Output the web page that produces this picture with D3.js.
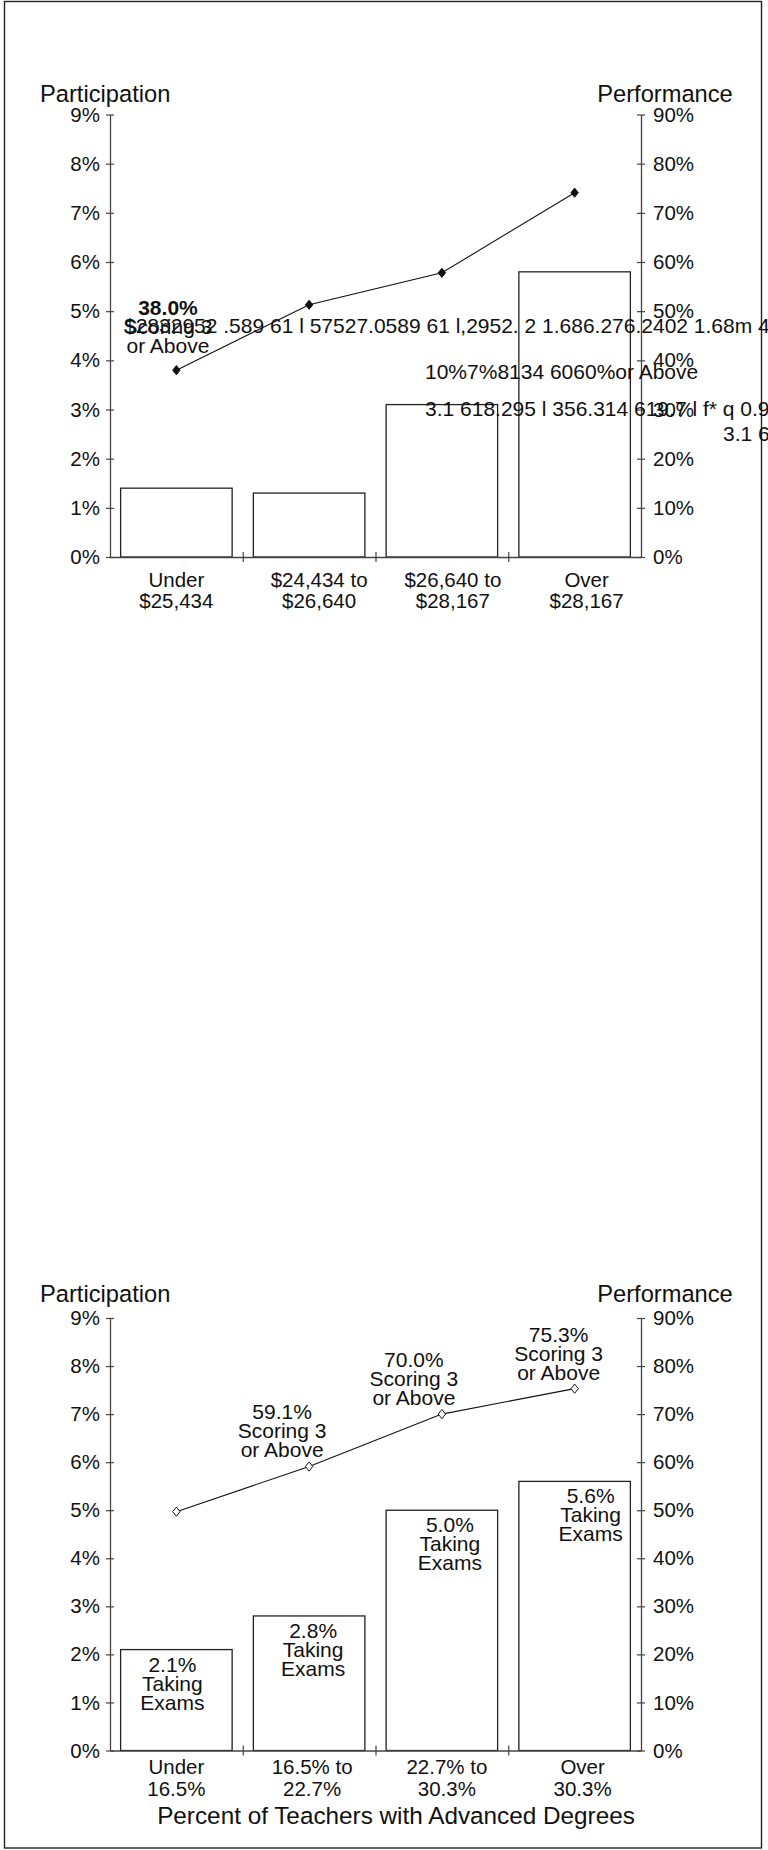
<!DOCTYPE html>
<html>
<head>
<meta charset="utf-8">
<script src="https://cdn.jsdelivr.net/npm/d3@7"></script>
<style>
  body { margin: 0; background: #fff; }
  svg { display: block; font-family: "Liberation Sans", Arial, Helvetica, sans-serif; }
</style>
</head>
<body>
<svg id="chart" width="768" height="1850"></svg>
<script>
// ---- data ----
const salaryBands = [["Under", "$25,434"], ["$24,434 to", "$26,640"], ["$26,640 to", "$28,167"], ["Over", "$28,167"]];
const salaryTaking = [1.4, 1.3, 3.1, 5.8];       // % of students taking exams
const salaryScoring = [38.0, 51.3, 57.8, 74.1];  // % scoring 3 or above

const degreeBands = [["Under", "16.5%"], ["16.5% to", "22.7%"], ["22.7% to", "30.3%"], ["Over", "30.3%"]];
const degreeTaking = [2.1, 2.8, 5.0, 5.6];
const degreeScoring = [49.7, 59.1, 70.0, 75.3];

const participationTicks = [0, 1, 2, 3, 4, 5, 6, 7, 8, 9];
const performanceTicks = [0, 10, 20, 30, 40, 50, 60, 70, 80, 90];
const degreeAxisTitle = "Percent of Teachers with Advanced Degrees";

// loose text runs printed over the salary panel
const strayRuns = [
  "$2832952 .589 61 l 57527.0589 61 l,2952. 2 1.686.276.2402 1.68m 4",
  "10%7%8134 6060%or Above",
  "3.1 618.295 l 356.314 619.7 l f* q 0.95 0 0 1 356.3",
  "3.1 618.295 l"
];

// ---- layout ----
const axisL = 110, axisR = 641;
const FONT_TICK = 20.5, FONT_TITLE = 23.7, FONT_XTITLE = 24.3, FONT_LABEL = 21, LINE_H = 19;
const strayPos = [[124, 333], [425, 379], [425, 415.5], [723, 441]];

const panels = [
  {
    cats: salaryBands, taking: salaryTaking, scoring: salaryScoring,
    y9: 114.5, y0: 557, titleY: 101.5, catY: [587, 607.5], catNudge: [0, 10, 11, 12],
    openMarker: false, barLabels: false,
    lineLabels: [{ i: 0, dx: -8.4, dy: [-55.3, -36.3, -17.3], boldFirst: true }]
  },
  {
    cats: degreeBands, taking: degreeTaking, scoring: degreeScoring,
    y9: 1318, y0: 1750.5, titleY: 1302, catY: [1773.5, 1796], catNudge: [0, 3, 5, 8],
    openMarker: true, barLabels: true, barNudge: [-4, 4, 8, 16],
    lineLabels: [
      { i: 1, dx: -27, dy: [-47, -28, -9] },
      { i: 2, dx: -28, dy: [-47, -28, -9] },
      { i: 3, dx: -16, dy: [-47, -28, -9] }
    ],
    axisTitle: degreeAxisTitle, axisTitleY: 1823.5
  }
];

const svg = d3.select("#chart");

// page frame
svg.append("rect")
  .attr("x", 4.5).attr("y", 1.5).attr("width", 757).attr("height", 1846.5)
  .attr("fill", "none").attr("stroke", "#222").attr("stroke-width", 1.4);

const diamond = "M0,-4.6L3.7,0L0,4.6L-3.7,0Z";

panels.forEach((p, pi) => {
  const g = svg.append("g");
  const idx = p.cats.map((d, i) => i);

  const x = d3.scaleBand().domain(idx).range([axisL, axisR])
    .paddingInner(0.16).paddingOuter(0.08);
  const xEdge = d3.scaleLinear().domain([0, p.cats.length]).range([axisL, axisR]);
  const yL = d3.scaleLinear().domain([0, 9]).range([p.y0, p.y9]);
  const yR = d3.scaleLinear().domain([0, 90]).range([p.y0, p.y9]);
  const cx = i => x(i) + x.bandwidth() / 2;

  // bars: participation
  g.append("g").selectAll("rect").data(p.taking).join("rect")
    .attr("x", (d, i) => x(i))
    .attr("y", d => yL(d))
    .attr("width", x.bandwidth())
    .attr("height", d => p.y0 - yL(d))
    .attr("fill", "#fff").attr("stroke", "#222").attr("stroke-width", 1.3);

  // axes
  const styleAxis = (sel, cross) => {
    sel.select(".domain").attr("stroke", "#444").attr("stroke-width", 1.3);
    sel.selectAll(".tick line").attr("stroke", "#444").attr("stroke-width", 1.2);
    sel.selectAll(".tick text").attr("fill", "#111")
      .style("font-size", FONT_TICK + "px")
      .style("font-family", "'Liberation Sans', Arial, sans-serif");
    cross(sel.selectAll(".tick line"));
  };

  const left = g.append("g").attr("transform", `translate(${axisL},0)`)
    .call(d3.axisLeft(yL).tickValues(participationTicks).tickFormat(d => d + "%")
      .tickSizeInner(4).tickSizeOuter(0).tickPadding(6));
  styleAxis(left, s => s.attr("x1", 4));

  const right = g.append("g").attr("transform", `translate(${axisR},0)`)
    .call(d3.axisRight(yR).tickValues(performanceTicks).tickFormat(d => d + "%")
      .tickSizeInner(4).tickSizeOuter(0).tickPadding(8));
  styleAxis(right, s => s.attr("x1", -4));

  const bottom = g.append("g").attr("transform", `translate(0,${p.y0})`)
    .call(d3.axisBottom(xEdge).tickValues(d3.range(1, p.cats.length)).tickFormat("")
      .tickSizeInner(5).tickSizeOuter(0));
  styleAxis(bottom, s => s.attr("y1", -5));

  // category labels
  const cat = g.append("g").attr("fill", "#111").attr("text-anchor", "middle")
    .style("font-size", FONT_TICK + "px");
  p.cats.forEach((lines, i) => {
    lines.forEach((t, k) => {
      cat.append("text").attr("x", cx(i) + p.catNudge[i]).attr("y", p.catY[k]).text(t);
    });
  });

  // axis headings
  g.append("text").attr("x", 40).attr("y", p.titleY).attr("fill", "#111")
    .style("font-size", FONT_TITLE + "px").text("Participation");
  g.append("text").attr("x", 665).attr("y", p.titleY).attr("text-anchor", "middle")
    .attr("fill", "#111").style("font-size", FONT_TITLE + "px").text("Performance");
  if (p.axisTitle) {
    g.append("text").attr("x", 396).attr("y", p.axisTitleY).attr("text-anchor", "middle")
      .attr("fill", "#111").style("font-size", FONT_XTITLE + "px").text(p.axisTitle);
  }

  // performance line
  const line = d3.line().x((d, i) => cx(i)).y(d => yR(d));
  g.append("path").datum(p.scoring).attr("d", line)
    .attr("fill", "none").attr("stroke", "#111").attr("stroke-width", 1.1);
  g.append("g").selectAll("path").data(p.scoring).join("path")
    .attr("d", diamond)
    .attr("transform", (d, i) => `translate(${cx(i)},${yR(d)})`)
    .attr("fill", p.openMarker ? "#fff" : "#111")
    .attr("stroke", "#111").attr("stroke-width", 1);

  // line labels
  p.lineLabels.forEach(L => {
    const v = p.scoring[L.i];
    const lines = [v.toFixed(1) + "%", "Scoring 3", "or Above"];
    lines.forEach((t, k) => {
      g.append("text")
        .attr("x", cx(L.i) + L.dx).attr("y", yR(v) + L.dy[k])
        .attr("text-anchor", "middle").attr("fill", "#111")
        .style("font-size", FONT_LABEL + "px")
        .style("font-weight", (L.boldFirst && k === 0) ? "bold" : "normal")
        .text(t);
    });
  });

  // bar labels
  if (p.barLabels) {
    p.taking.forEach((v, i) => {
      [v.toFixed(1) + "%", "Taking", "Exams"].forEach((t, k) => {
        g.append("text")
          .attr("x", cx(i) + p.barNudge[i]).attr("y", yL(v) + 22 + k * LINE_H)
          .attr("text-anchor", "middle").attr("fill", "#111")
          .style("font-size", FONT_LABEL + "px").text(t);
      });
    });
  }

  // loose text runs (salary panel only)
  if (pi === 0) {
    strayRuns.forEach((t, k) => {
      g.append("text").attr("x", strayPos[k][0]).attr("y", strayPos[k][1])
        .attr("fill", "#111").style("font-size", FONT_LABEL + "px").text(t);
    });
  }
});
</script>
</body>
</html>
